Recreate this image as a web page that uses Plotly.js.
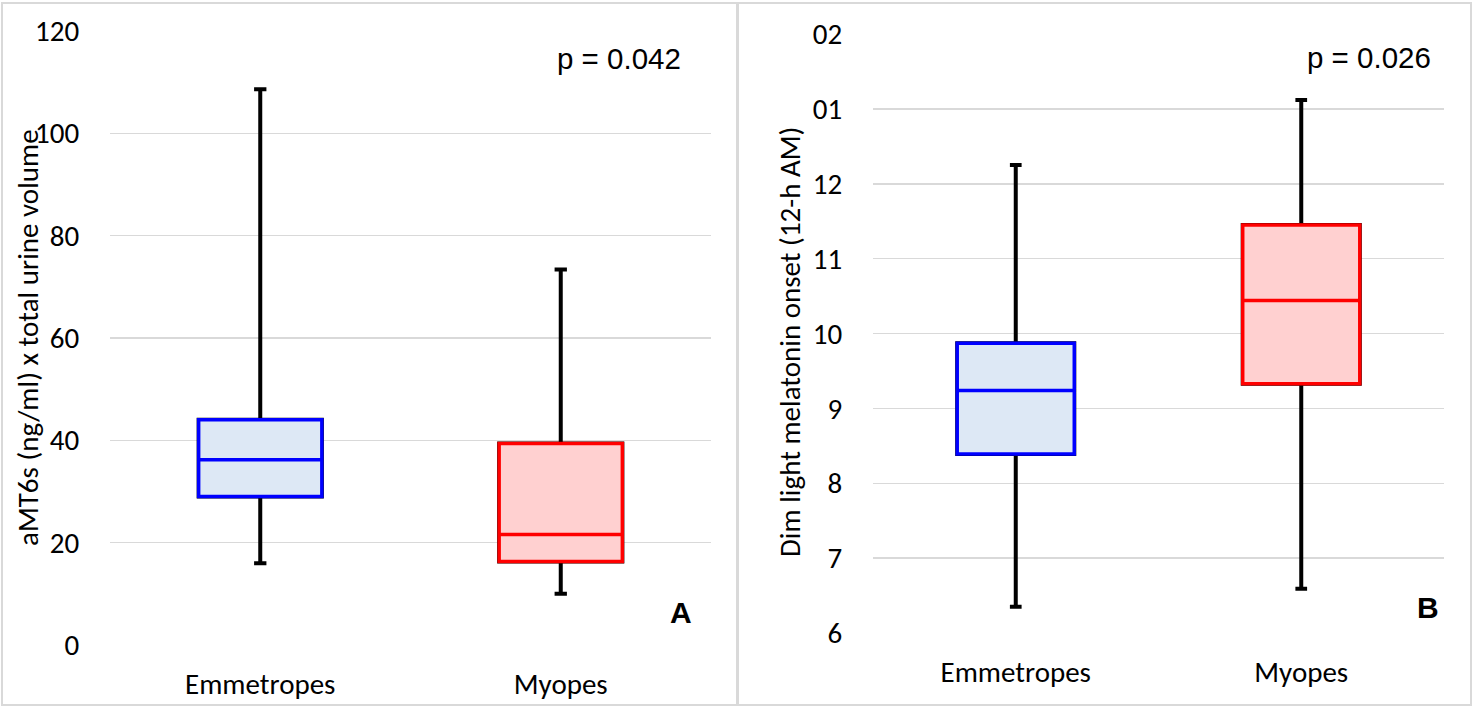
<!DOCTYPE html>
<html>
<head>
<meta charset="utf-8">
<script src="https://cdn.plot.ly/plotly-3.0.1.min.js"></script>
<style>html,body{margin:0;padding:0;background:#fff;}#chart{width:1472px;height:706px;}</style>
</head>
<body>
<div id="chart"></div>
<script>
// ---- Data ----
const groups = ["Emmetropes", "Myopes"];

// Panel A: aMT6s (ng/ml) x total urine volume
const aMin    = [16.0, 10.0];
const aQ1     = [29.0, 16.3];
const aMedian = [36.2, 21.6];
const aQ3     = [44.0, 39.4];
const aMax    = [108.6, 73.4];
const aTickVals = [0, 20, 40, 60, 80, 100, 120];

// Panel B: Dim light melatonin onset (hours, 12-h AM)
const bMin    = [6.35, 6.59];
const bQ1     = [8.39, 9.33];
const bMedian = [9.24, 10.44];
const bQ3     = [9.87, 11.45];
const bMax    = [12.25, 13.12];
const bTickVals  = [6, 7, 8, 9, 10, 11, 12, 13, 14];
const bTickText  = ["6", "7", "8", "9", "10", "11", "12", "01", "02"];

const pValues = ["p = 0.042", "p = 0.026"];
const panelLetters = ["A", "B"];

// ---- Styling ----
const W = 1472, H = 706;
const px = x => x / W;
const py = y => 1 - y / H;
const lineColors = ["#0000ff", "#ff0000"];
const fillColors = ["#dde8f5", "#ffd0d0"];
const tickFont = {family: "Carlito, Lato, sans-serif", size: 29, color: "#000"};

function makeTraces(mins, q1s, meds, q3s, maxs, xa, ya) {
  const traces = [];
  groups.forEach((g, i) => {
    // whiskers (black)
    traces.push({
      type: "box", x: [g], q1: [q1s[i]], median: [meds[i]], q3: [q3s[i]],
      lowerfence: [mins[i]], upperfence: [maxs[i]],
      xaxis: xa, yaxis: ya, width: 0.41, whiskerwidth: 0.1,
      line: {color: "#000", width: 4}, fillcolor: "rgba(0,0,0,0)",
      boxpoints: false, hoverinfo: "skip", showlegend: false
    });
    // box (coloured)
    traces.push({
      type: "box", x: [g], q1: [q1s[i]], median: [meds[i]], q3: [q3s[i]],
      lowerfence: [q1s[i]], upperfence: [q3s[i]],
      xaxis: xa, yaxis: ya, width: 0.41, whiskerwidth: 0,
      line: {color: lineColors[i], width: 3.5}, fillcolor: fillColors[i],
      boxpoints: false, hoverinfo: "skip", showlegend: false
    });
  });
  return traces;
}

const data = [
  ...makeTraces(aMin, aQ1, aMedian, aQ3, aMax, "x", "y"),
  ...makeTraces(bMin, bQ1, bMedian, bQ3, bMax, "x2", "y2")
];

const xBase = {
  type: "category", showgrid: false, zeroline: false, showline: false,
  ticks: "outside", ticklen: 13, tickcolor: "rgba(0,0,0,0)",
  tickfont: tickFont, fixedrange: true, range: [-0.5, 1.5]
};
const yBase = {
  showgrid: true, gridcolor: "#d9d9d9", gridwidth: 1.5, zeroline: false, showline: false,
  ticks: "outside", ticklen: 24, tickcolor: "rgba(0,0,0,0)",
  tickfont: tickFont, fixedrange: true
};

const layout = {
  width: W, height: H,
  margin: {l: 0, r: 0, t: 0, b: 0},
  paper_bgcolor: "#fff", plot_bgcolor: "#fff",
  boxmode: "overlay",
  xaxis: Object.assign({}, xBase, {domain: [px(110), px(711)], anchor: "y", categoryorder: "array", categoryarray: groups}),
  yaxis: Object.assign({}, yBase, {domain: [py(645), py(31)], range: [0, 120], tickvals: aTickVals, anchor: "x"}),
  xaxis2: Object.assign({}, xBase, {domain: [px(873), px(1444)], anchor: "y2", categoryorder: "array", categoryarray: groups}),
  yaxis2: Object.assign({}, yBase, {domain: [py(633), py(34)], range: [6, 14], tickvals: bTickVals, ticktext: bTickText, anchor: "x2"}),
  shapes: [
    {type: "rect", xref: "paper", yref: "paper", x0: px(2), x1: px(737), y0: py(705), y1: py(3), line: {color: "#d9d9d9", width: 2}},
    {type: "rect", xref: "paper", yref: "paper", x0: px(738), x1: px(1471), y0: py(705), y1: py(3), line: {color: "#d9d9d9", width: 2}}
  ],
  annotations: [
    {text: "aMT6s (ng/ml) x total urine volume", xref: "paper", yref: "paper", x: px(28), y: py(338), textangle: -90, showarrow: false, xanchor: "center", yanchor: "middle", font: {family: "Carlito, Lato, sans-serif", size: 29, color: "#000"}},
    {text: "Dim light melatonin onset (12-h AM)", xref: "paper", yref: "paper", x: px(790), y: py(342), textangle: -90, showarrow: false, xanchor: "center", yanchor: "middle", font: {family: "Carlito, Lato, sans-serif", size: 29, color: "#000"}},
    {text: pValues[0], xref: "paper", yref: "paper", x: px(683), y: py(58), xanchor: "right", yanchor: "middle", showarrow: false, font: {family: "Liberation Sans, Arial, sans-serif", size: 29.5, color: "#000"}},
    {text: pValues[1], xref: "paper", yref: "paper", x: px(1433), y: py(57), xanchor: "right", yanchor: "middle", showarrow: false, font: {family: "Liberation Sans, Arial, sans-serif", size: 29.5, color: "#000"}},
    {text: "<b>" + panelLetters[0] + "</b>", xref: "paper", yref: "paper", x: px(681), y: py(612), xanchor: "center", yanchor: "middle", showarrow: false, font: {family: "Liberation Sans, Arial, sans-serif", size: 30, color: "#000"}},
    {text: "<b>" + panelLetters[1] + "</b>", xref: "paper", yref: "paper", x: px(1428), y: py(607), xanchor: "center", yanchor: "middle", showarrow: false, font: {family: "Liberation Sans, Arial, sans-serif", size: 30, color: "#000"}}
  ]
};

Plotly.newPlot("chart", data, layout, {staticPlot: true, displayModeBar: false});
</script>
</body>
</html>
